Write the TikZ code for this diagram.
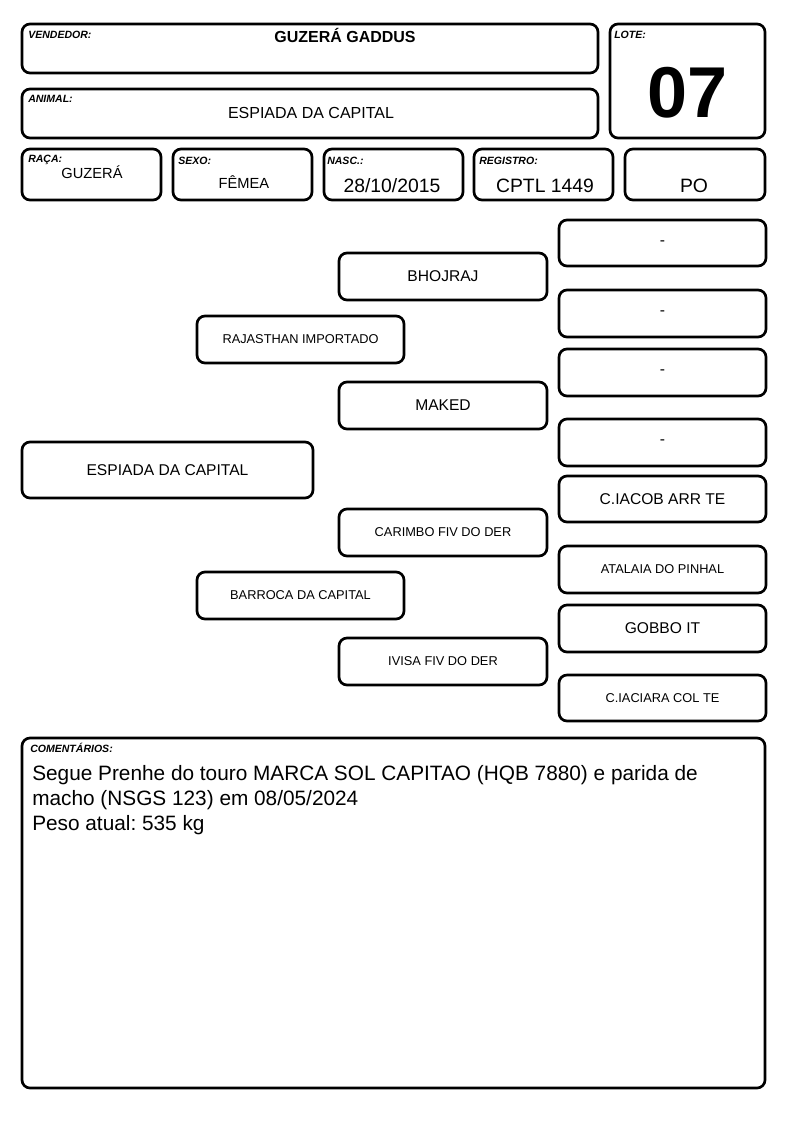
\documentclass[tikz,border=0pt]{standalone}
\usepackage{fontspec}
\setmainfont{Liberation Sans}
\frenchspacing
\begin{document}
\begin{tikzpicture}[x=0.75pt,y=-0.75pt,
  box/.style={draw=black,line width=2pt,rounded corners=6pt,fill=white,inner sep=0pt,align=center},
  lbl/.style={anchor=base west,inner sep=0pt,font=\fontsize{7.9}{9}\selectfont\bfseries\itshape},
  val/.style={anchor=base,inner sep=0pt},
  big/.style={font=\fontsize{11.7}{13}\selectfont},
  small/.style={font=\fontsize{9.6}{11}\selectfont}]
\useasboundingbox[fill=white] (0,0) rectangle (794,1123);
\newcommand{\pbox}[5]{\node[box,minimum width=#3*0.75pt,minimum height=#4*0.75pt] (#1) at (#2) {#5};}
% header boxes
\pbox{vend}{310,48.5}{576}{49}{}
\pbox{anim}{310,113.5}{576}{49}{}
\pbox{lote}{687.5,81}{155}{114}{}
\pbox{raca}{91.5,174.5}{139}{51}{}
\pbox{sexo}{242.5,174.5}{139}{51}{}
\pbox{nasc}{393.5,174.5}{139}{51}{}
\pbox{reg}{543.5,174.5}{139}{51}{}
\pbox{po}{695,174.5}{140}{51}{}
\node[lbl] (lvend) at (28,39) {VENDEDOR:};
\node[lbl] (lanim) at (28,103) {ANIMAL:};
\node[lbl] (llote) at (614,39) {LOTE:};
\node[lbl] (lraca) at (28,163) {RAÇA:};
\node[lbl] (lsexo) at (178,165) {SEXO:};
\node[lbl] (lnasc) at (327,165) {NASC.:};
\node[lbl] (lreg) at (479,165) {REGISTRO:};
\node[val,font=\fontsize{12}{14}\selectfont\bfseries] (tvend) at (345,43) {GUZERÁ GADDUS};
\node[val,font=\fontsize{12}{14}\selectfont] (tanim) at (311,119) {ESPIADA DA CAPITAL};
\node[val,font=\fontsize{54}{60}\selectfont\bfseries] (tlote) at (688,118) {07};
\node[val,font=\fontsize{11}{13}\selectfont] (traca) at (92,179) {GUZERÁ};
\node[val,font=\fontsize{11}{13}\selectfont] (tsexo) at (244,189) {FÊMEA};
\node[val,font=\fontsize{14.5}{16}\selectfont] (tnasc) at (392,193) {28/10/2015};
\node[val,font=\fontsize{14.5}{16}\selectfont] (treg) at (545,193) {CPTL 1449};
\node[val,font=\fontsize{14.5}{16}\selectfont] (tpo) at (694,193) {PO};
% pedigree
\begin{scope}[every node/.append style={big}]
\pbox{g1}{167.5,470}{291}{56}{ESPIADA DA CAPITAL}
\end{scope}
\begin{scope}[every node/.append style={small}]
\pbox{g2a}{300.5,339.5}{207}{47}{RAJASTHAN IMPORTADO}
\pbox{g2b}{300.5,595.5}{207}{47}{BARROCA DA CAPITAL}
\end{scope}
\begin{scope}[every node/.append style={big}]
\pbox{g3a}{443,276.5}{208}{47}{BHOJRAJ}
\pbox{g3b}{443,405.5}{208}{47}{MAKED}
\end{scope}
\begin{scope}[every node/.append style={small}]
\pbox{g3c}{443,532.5}{208}{47}{CARIMBO FIV DO DER}
\pbox{g3d}{443,661.5}{208}{47}{IVISA FIV DO DER}
\end{scope}
\begin{scope}[every node/.append style={big}]
\pbox{g4a}{662.5,243}{207}{46}{-}
\pbox{g4b}{662.5,313.5}{207}{47}{-}
\pbox{g4c}{662.5,372.5}{207}{47}{-}
\pbox{g4d}{662.5,442.5}{207}{47}{-}
\pbox{g4e}{662.5,499}{207}{46}{C.IACOB ARR TE}
\pbox{g4g}{662.5,628.5}{207}{47}{GOBBO IT}
\end{scope}
\begin{scope}[every node/.append style={small}]
\pbox{g4f}{662.5,569.5}{207}{47}{ATALAIA DO PINHAL}
\pbox{g4h}{662.5,698}{207}{46}{C.IACIARA COL TE}
\end{scope}
% comments
\pbox{com}{393.5,913}{743}{350}{}
\node[lbl] (lcom) at (30,752) {COMENTÁRIOS:};
\node[anchor=base west,inner sep=0pt,align=left,font=\fontsize{15.6}{18.4}\selectfont] (tcom) at (32,830)
  {Segue Prenhe do touro MARCA SOL CAPITAO (HQB 7880) e parida de\\macho (NSGS 123) em 08/05/2024\\Peso atual: 535 kg};
\end{tikzpicture}
\end{document}
